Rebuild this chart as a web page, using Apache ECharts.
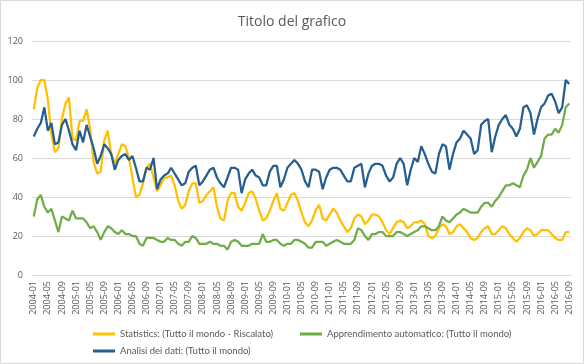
<!DOCTYPE html>
<html><head><meta charset="utf-8">
<script src="https://cdn.jsdelivr.net/npm/echarts@6/dist/echarts.min.js"></script>
<style>html,body{margin:0;padding:0;background:#fff}#c{width:584px;height:364px}</style>
</head><body><div id="c"></div>
<script>
// Categories: months 2004-01 .. 2016-09
var startYear = 2004, endYear = 2016, endMonth = 9;
var categories = [];
for (var y = startYear; y <= endYear; y++) {
  for (var m = 1; m <= 12; m++) {
    if (y === endYear && m > endMonth) break;
    categories.push(y + '-' + (m < 10 ? '0' + m : m));
  }
}
var yTicks = [0, 20, 40, 60, 80, 100, 120];

var statistics = [85,96,100,100,90,72,63,65,80,88,91,70,
69,79,79,85,75,58,52,53,69,74,62,57,
62,67,66,60,50,40,41,47,55,57,50,43,
46,50,50,51,46,38,34,36,43,47,47,37,
38,41,43,45,35,29,28,38,42,42,35,33,
37,42,43,39,33,28,29,33,38,42,34,33,
37,41,42,38,32,27,25,28,33,36,29,28,
31,34,32,28,25,22,24,29,31,30,26,28,
31,31,30,27,23,21,24,27,28,27,24,25,
27,27,28,26,20,19,20,24,26,25,21,22,
25,26,24,22,19,18,19,22,24,25,21,21,
23,25,24,21,19,17,19,22,24,23,20,21,
23,23,23,21,19,18,18,22,22];

var apprendimento = [30,39,41,35,32,34,28,22,30,29,28,33,
29,29,29,27,24,25,22,18,22,25,24,22,
21,23,21,21,20,20,16,15,19,19,19,18,
17,17,19,18,18,16,15,17,17,20,19,16,
16,16,17,16,16,15,15,13,17,18,17,15,
15,15,16,16,16,21,17,17,18,18,16,15,
16,16,18,18,17,16,14,14,17,17,17,15,
16,17,18,17,16,16,16,18,24,23,20,18,
21,21,22,22,20,20,20,22,22,21,20,21,
22,23,25,25,24,23,23,25,30,28,27,29,
31,32,34,33,32,32,32,35,37,37,35,38,
40,43,46,46,47,46,45,51,54,60,55,58,
61,70,72,72,75,73,77,86,88];

var analisi = [71,75,78,86,74,78,67,68,77,80,74,67,
64,74,68,77,71,65,57,61,67,65,62,54,
59,61,62,59,61,55,48,48,55,54,60,44,
49,51,52,55,52,49,46,47,53,55,56,46,
48,51,54,55,50,47,45,50,55,55,54,42,
49,52,54,51,50,46,46,53,56,56,45,49,
55,57,59,57,54,48,45,54,54,53,44,50,
54,55,55,54,51,48,48,55,56,57,45,52,
56,57,57,56,51,48,50,57,60,57,46,54,
60,58,66,62,57,53,52,62,67,66,54,62,
68,70,74,72,70,62,64,77,79,80,63,71,
77,80,82,77,75,71,75,86,87,83,72,80,
86,88,92,93,89,83,86,100,98];

var names = ['Statistics: (Tutto il mondo - Riscalato)', 'Apprendimento automatico: (Tutto il mondo)', 'Analisi dei dati: (Tutto il mondo)'];
var colors = ['#FFC000', '#70AD47', '#255E91'];
var values = [statistics, apprendimento, analisi];

var chart = echarts.init(document.getElementById('c'), null, {renderer: 'canvas'});
var font = 'Open Sans, Liberation Sans, sans-serif';
var legendCommon = {
  icon: 'rect', itemWidth: 22, itemHeight: 3, itemGap: 4,
  textStyle: {color: '#595959', fontSize: 9.5, fontFamily: 'Lato, Open Sans, sans-serif'},
  selectedMode: false
};
chart.setOption({
  animation: false,
  color: colors,
  title: {
    text: 'Titolo del grafico', left: 'center', top: 10,
    textStyle: {color: '#595959', fontSize: 14, fontWeight: 'normal', fontFamily: font}
  },
  graphic: [{type: 'rect', shape: {x: 0.5, y: 0.5, width: 583, height: 363}, style: {fill: 'none', stroke: '#d9d9d9', lineWidth: 1}, silent: true}],
  legend: [
    Object.assign({data: [names[0]], left: 88, top: 324}, legendCommon),
    Object.assign({data: [names[1]], left: 295, top: 324}, legendCommon),
    Object.assign({data: [names[2]], left: 88, top: 341}, legendCommon)
  ],
  grid: {left: 32, right: 13, top: 41, bottom: 89, containLabel: false},
  xAxis: {
    type: 'category', data: categories, boundaryGap: true,
    axisLine: {show: true, lineStyle: {color: '#d9d9d9'}},
    axisTick: {show: false},
    axisLabel: {interval: 3, rotate: 90, color: '#595959', fontSize: 9, fontFamily: font, margin: 6}
  },
  yAxis: {
    type: 'value', min: yTicks[0], max: yTicks[yTicks.length - 1], interval: 20,
    axisLine: {show: false}, axisTick: {show: false},
    axisLabel: {color: '#595959', fontSize: 9, fontFamily: font, margin: 9},
    splitLine: {lineStyle: {color: '#d9d9d9', width: 1}}
  },
  series: values.map(function (v, k) {
    return {
      name: names[k], type: 'line', data: v, showSymbol: false, symbol: 'none',
      lineStyle: {width: 2.25, color: colors[k]}, itemStyle: {color: colors[k]}, z: 2 + k
    };
  })
});
</script></body></html>
